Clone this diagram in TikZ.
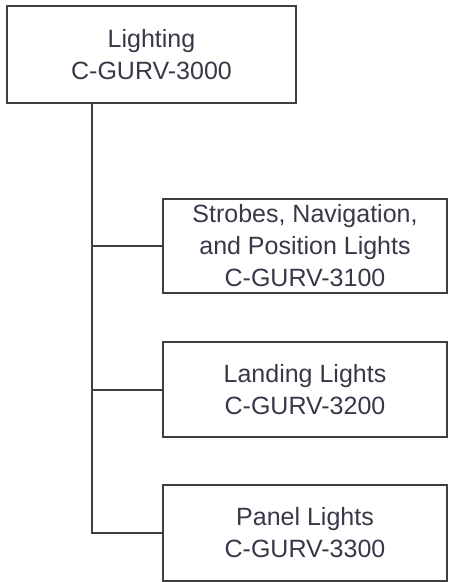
\documentclass[tikz,border=0pt]{standalone}
\usepackage{fontspec}
\setmainfont{Liberation Sans}
\definecolor{boxline}{HTML}{404040}
\definecolor{boxtext}{HTML}{383848}

\begin{document}
\begin{tikzpicture}[x=1pt, y=1pt,
    unitbox/.style={draw=boxline, line width=2pt, rectangle, align=center,
        text=boxtext, inner sep=0pt, minimum width=284pt, minimum height=95pt,
        font=\fontsize{25}{32}\selectfont},
    link/.style={draw=boxline, line width=2pt}]
    % Page frame (449 x 582)
    \useasboundingbox (0,0) rectangle (449,-582);

    % Top level system
    \node[unitbox, minimum width=289pt, minimum height=97pt] (lighting) at (151.5,-54.5)
        {Lighting\\C-GURV-3000};

    % Sub-systems, stacked on the right
    \node[unitbox, minimum height=94pt] (strobes) at (305,-246)
        {Strobes, Navigation,\\and Position Lights\\C-GURV-3100};
    \node[unitbox] (landing) at (305,-389.5)
        {Landing Lights\\C-GURV-3200};
    \node[unitbox, minimum height=96pt] (panel) at (305,-533)
        {Panel Lights\\C-GURV-3300};

    % Trunk line down the left side
    \coordinate (trunk) at (92,-533);
    \draw[link] (lighting.south -| trunk) |- (panel.west);

    % Branches to each sub-system
    \draw[link] (trunk |- strobes.west) -- (strobes.west);
    \draw[link] (trunk |- landing.west) -- (landing.west);
\end{tikzpicture}
\end{document}
